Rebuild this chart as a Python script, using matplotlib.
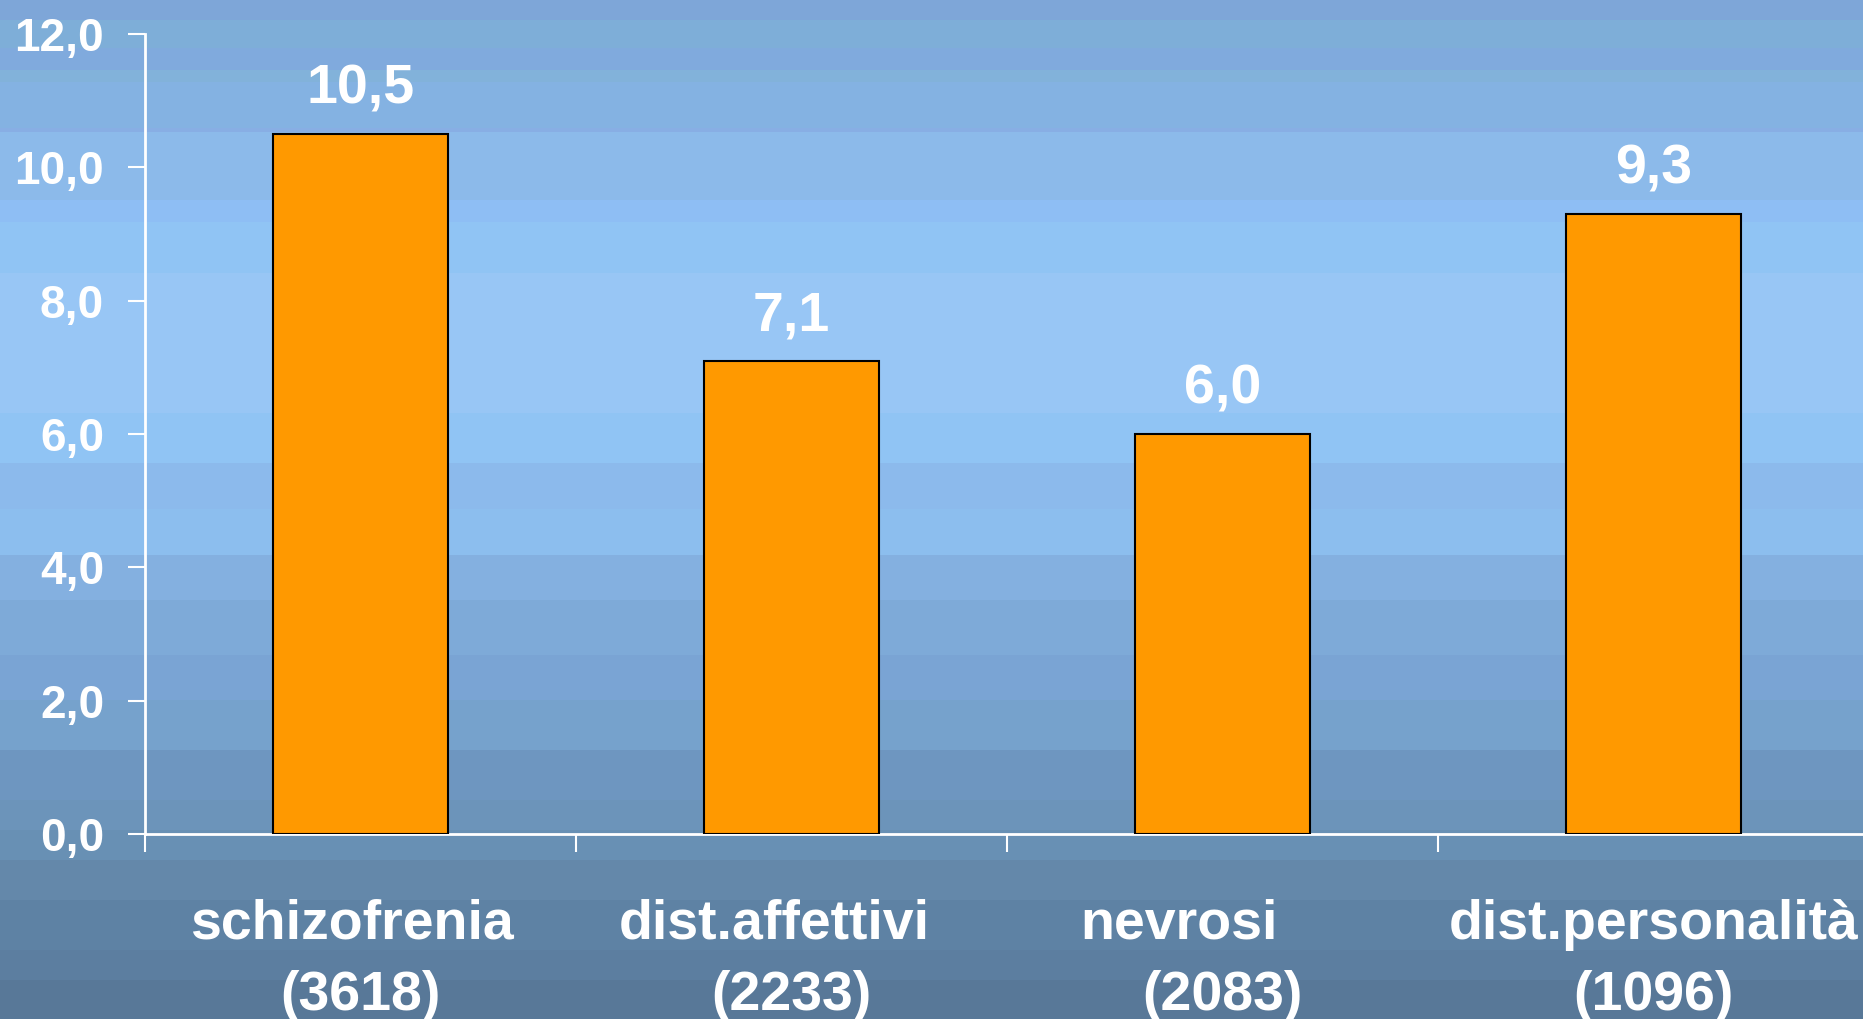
import numpy as np
import matplotlib
matplotlib.use("Agg")
import matplotlib.pyplot as plt
from matplotlib.colors import to_rgb
from matplotlib.ticker import FixedLocator, FuncFormatter

# Data
categories = ["schizofrenia", "dist.affettivi", "nevrosi", "dist.personalità"]
counts = ["(3618)", "(2233)", "(2083)", "(1096)"]
values = [10.5, 7.1, 6.0, 9.3]
y_ticks = [0, 2, 4, 6, 8, 10, 12]

# Background bands: (start row in pixels from top, colour)
band_starts = [0, 20, 48, 70, 82, 128, 132, 200, 222, 273, 413, 463, 509,
               555, 600, 655, 700, 750, 800, 830, 860, 900, 950, 980]
band_colors = ["#7EA6D8", "#7EAED8", "#80AADD", "#82B2DA", "#84B2E2", "#88AEE4",
               "#8CBAEA", "#8EBEF4", "#90C4F4", "#98C6F5", "#90C4F4", "#8CBAEC",
               "#8CBEEE", "#84B0E0", "#7EAAD8", "#7AA4D4", "#76A2CC", "#6E96C0",
               "#6C94BA", "#6890B4", "#6488AA", "#5E82A4", "#5C7EA0", "#587898"]

W, H, DPI = 1863, 1019, 100
plt.rcParams["font.family"] = ["Liberation Sans", "DejaVu Sans"]
plt.rcParams["font.weight"] = "bold"

fig = plt.figure(figsize=(W / DPI, H / DPI), dpi=DPI)

# banded vertical gradient behind everything
bg = fig.add_axes([0, 0, 1, 1], zorder=-10)
img = np.zeros((H, 1, 3))
edges = band_starts[1:] + [H]
for s, e, c in zip(band_starts, edges, band_colors):
    img[s:e, 0, :] = to_rgb(c)
bg.imshow(img, aspect="auto", extent=[0, 1, 0, 1], interpolation="nearest")
bg.set_axis_off()

ax = fig.add_axes([145 / W, (H - 834) / H, 1724 / W, 800 / H])
ax.set_facecolor("none")

x = np.arange(len(categories))
ax.bar(x, values, width=0.404, color="#FF9900", edgecolor="black",
       linewidth=1.5, zorder=3)

ax.set_xlim(-0.5, len(categories) - 0.5)
ax.set_ylim(0, 12)

# spines
for side in ("top", "right"):
    ax.spines[side].set_visible(False)
for side in ("left", "bottom"):
    ax.spines[side].set_color("white")
    ax.spines[side].set_linewidth(2)

# y axis
ax.yaxis.set_major_locator(FixedLocator(y_ticks))
ax.yaxis.set_major_formatter(FuncFormatter(lambda v, p: f"{v:.1f}".replace(".", ",")))
ax.tick_params(axis="y", colors="white", length=12.5, width=1.5, pad=17,
               labelsize=33)
for lab in ax.get_yticklabels():
    lab.set_fontweight("bold")

# x axis: ticks at category boundaries, labels drawn as text below
ax.xaxis.set_major_locator(FixedLocator(np.arange(len(categories) + 1) - 0.5))
ax.tick_params(axis="x", colors="white", length=13, width=1.5, labelbottom=False)

# value labels above bars
for xi, v in zip(x, values):
    ax.annotate(f"{v:.1f}".replace(".", ","), xy=(xi, v), xytext=(0, 22),
                textcoords="offset points", ha="center", va="baseline",
                fontsize=40, fontweight="bold", color="white")

# two-line category labels
trans = ax.get_xaxis_transform()
name_shift = [-0.02, -0.04, -0.10, 0.0]
for xi, name, n, sh in zip(x, categories, counts, name_shift):
    ax.text(xi + sh, -0.131, name, transform=trans, ha="center", va="baseline",
            fontsize=40, fontweight="bold", color="white", clip_on=False)
    ax.text(xi, -0.22, n, transform=trans, ha="center", va="baseline",
            fontsize=40, fontweight="bold", color="white", clip_on=False)

fig.savefig("out.png", dpi=DPI)
